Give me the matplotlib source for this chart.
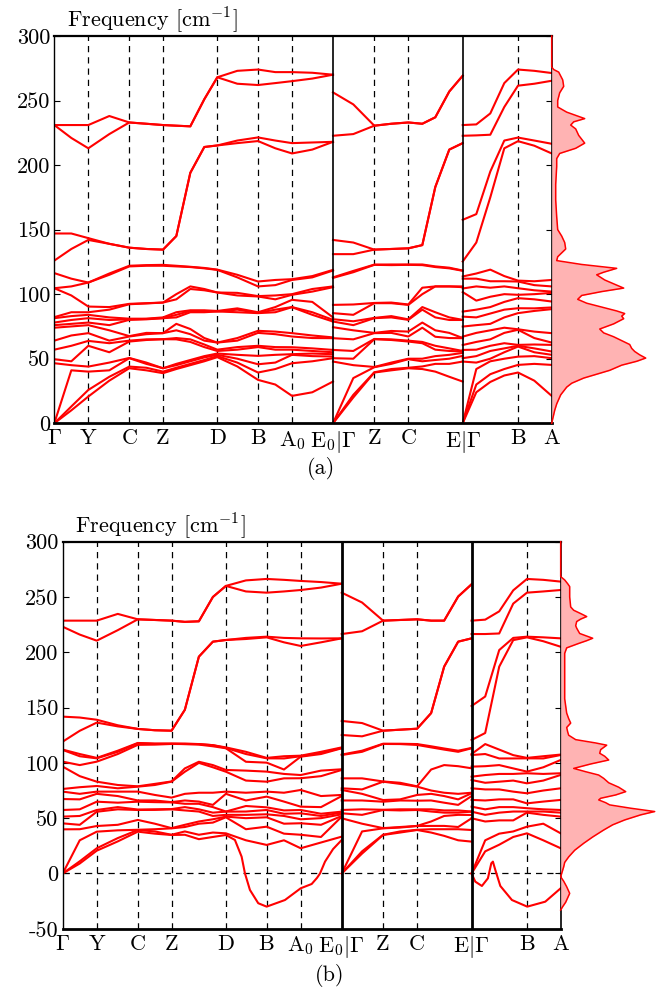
import matplotlib
matplotlib.use('Agg')
import matplotlib.pyplot as plt
import numpy as np

plt.rcParams['font.family'] = 'serif'
plt.rcParams['font.serif'] = ['cmr10', 'DejaVu Serif']
plt.rcParams['mathtext.fontset'] = 'cm'
plt.rcParams['axes.unicode_minus'] = False

# high symmetry points (path length units) and labels
kpts = [0, 34, 75, 108.7, 163, 203.7, 237.7, 278.7, 320, 354, 408.4, 463.7, 497.4]
klabels = [r'$\Gamma$', 'Y', 'C', 'Z', 'D', 'B', r'A$_0$', r'E$_0|\Gamma$',
           'Z', 'C', r'E$|\Gamma$', 'B', 'A']
dashed_k = [34, 75, 108.7, 163, 203.7, 237.7, 320, 354, 463.7]
sep_k = [278.7, 408.4]

# sample points along each path
grid1 = [0, 17, 34, 55, 75, 92, 108.7, 122, 136, 150, 163, 183, 203.7, 221, 237.7, 258, 278.7]
grid2 = [278.7, 299, 320, 337, 354, 368, 381, 395, 408.4]
grid3 = [408.4, 422, 436, 450, 463.7, 480, 497.4]

# ---------------- panel (a) ----------------
# lower bands: one list of frequencies per sample point
a1_low = [
    [0, 0, 0, 46.5, 49.6, 57, 64, 74, 76, 78, 81.4, 82.2, 104.6, 104.6, 116.3],
    [10, 13, 41, 45, 48, 60, 68, 75, 77, 80, 83, 86, 99, 106, 112],
    [20.7, 25.8, 40, 43.9, 60, 63.8, 69.8, 76, 78, 81.4, 84, 86, 90.4, 109, 109],
    [33, 36, 41, 47, 55, 62, 64, 72, 76, 80, 82, 88, 90, 115, 116],
    [42.6, 43.9, 50.4, 50.6, 63.3, 64, 67.2, 67.5, 80.1, 80.5, 81, 92.2, 92.5, 121.5, 122],
    [41, 43, 46, 47, 64.5, 65, 69, 70, 80.5, 80.8, 81, 92.8, 93, 122, 122.5],
    [38.8, 40, 42.6, 42.6, 65.1, 65.1, 69.8, 69.8, 81.4, 81.4, 82, 93.5, 93.5, 122, 122.7],
    [42, 43, 45, 46, 65, 66, 72, 77, 82, 84, 86, 96, 100, 121.5, 122],
    [45, 46, 48, 49, 63, 65, 69, 73, 86, 87, 87.5, 104, 106, 121, 121.2],
    [48, 49, 51, 52, 59, 61, 64, 66, 86, 87, 87.5, 103, 104, 120, 120.3],
    [51.2, 52, 53, 54, 56, 57, 62.5, 62.5, 86.6, 86.6, 87, 101.3, 101.3, 118.8, 119],
    [44, 47, 50, 53, 57, 59, 64, 66, 86, 88, 89, 99, 101, 113, 115],
    [33.6, 39.3, 45.7, 52.2, 59, 60, 70, 71.6, 85.3, 85.5, 86, 98.2, 98.5, 106, 109.8],
    [30, 42, 47, 53, 57, 59, 69, 71, 86, 88, 90, 96, 99, 107, 111],
    [21.2, 46.5, 53, 53.5, 57, 58.9, 67.2, 69.8, 89.9, 90, 95.6, 99.5, 100, 111, 111.6],
    [24, 48, 52, 54, 56, 58, 66, 68, 84, 86, 94, 102, 104, 113, 114],
    [32.3, 50.4, 51.7, 53.5, 55, 56.8, 65.9, 66.5, 78.8, 80.1, 82, 105.4, 106, 118.3, 118.8],
]
a1_high = [
    [126, 135, 142, 139, 136, 135, 134.5, 145, 194, 214, 215.2, 217, 218.6, 213, 209, 212, 218],
    [147, 147, 143.4, 139, 136, 135, 134.5, 145, 194, 214, 215.2, 219, 221.4, 219, 217, 217.5, 218],
    [231, 221, 213, 224, 233, 232, 231, 230.5, 230, 251, 268, 263, 262, 263.5, 265, 267, 270],
    [231, 231, 231, 238, 233, 232, 231, 230.5, 230, 251, 268, 273, 274, 272, 272, 271.5, 270],
]
a2_low = [
    [0, 0, 0, 47.8, 50.4, 56.8, 65.9, 74.4, 78.8, 80.6, 85.3, 91.7, 112.6, 113],
    [20, 22, 35, 45, 50, 56, 65, 72, 76, 79, 84, 92, 117, 118],
    [39.3, 39.5, 43.4, 43.6, 65.1, 65.3, 69.8, 70, 81.4, 81.6, 93, 93.2, 122.7, 122.9],
    [41, 42, 46, 47, 64.5, 65, 70, 71.5, 82, 83, 93, 93.5, 122.5, 123],
    [42.6, 43, 49.6, 50, 63.3, 64, 67.2, 71, 80.1, 80.5, 91.7, 92, 122.7, 123],
    [42, 44, 48, 50, 62, 63, 74, 78, 88, 90, 100, 105, 122.5, 123],
    [40, 46, 49, 52, 57, 60, 67, 72, 82, 86, 106, 106, 121, 121.5],
    [36, 46, 50, 53, 56, 58, 66, 70, 80, 82, 106, 106, 120, 120.5],
    [32.3, 47.8, 52.2, 54.5, 55.6, 56, 65.9, 66, 80, 80.1, 105.4, 106, 118.1, 118.3],
]
a2_high = [
    [131, 131, 134.5, 135, 135.5, 138, 183, 212, 217],
    [142, 140, 134.5, 135, 135.5, 138, 183, 212, 217],
    [222.7, 224, 230.5, 232, 233, 232, 237, 257, 269.2],
    [256.3, 247, 230.5, 232, 233, 232, 237, 257, 269.2],
]
a3_low = [
    [0, 0, 0, 47.8, 50.4, 56.8, 60.6, 67.1, 74.9, 82.6, 86.5, 101.6, 104.4, 112, 113.7],
    [24, 30, 42, 47, 52, 57, 63, 70, 76, 82, 88, 95, 106, 112, 116],
    [32, 38, 48, 50, 56, 60, 65, 72, 77, 85, 90, 98, 105, 110, 119],
    [37, 42, 50, 55, 58, 62, 70, 74, 82, 88, 94, 100, 106, 110, 114],
    [39.3, 45.2, 51.6, 59.4, 60, 60.7, 72.4, 72.8, 85.3, 89.1, 96.9, 99.5, 104.6, 109.8, 110.5],
    [33, 46, 52, 55, 58, 61, 66, 71, 87, 89, 96, 100, 103, 107, 110],
    [21.2, 45.2, 50.4, 53, 55.6, 60.7, 62.5, 69.8, 88.4, 89.7, 94.3, 101, 102, 106, 111],
]
a3_high = [
    [125.3, 140, 175, 213, 218.5, 215, 209],
    [157.6, 162, 195, 219, 221.3, 219, 216.5],
    [222.7, 223, 223.5, 245, 261.5, 263, 265.3],
    [231, 231.5, 240, 263.5, 274, 273, 271.3],
]
dos_a_freq = [300, 276, 274, 272, 266, 261, 256, 250, 245, 241, 236, 233.5, 231, 228, 223, 217,
              213, 209, 205, 199, 185, 173, 160, 150, 145, 140, 135, 132, 129, 126, 123, 120,
              117, 115, 111, 107, 104.7, 102, 99, 96, 93, 91, 87, 85, 83, 81, 77, 73, 70, 67,
              64, 61, 58, 55.6, 53, 50.5, 48, 45, 41, 38, 35, 31, 28, 22, 15, 10, 5, 0]
dos_a_val = [0, 0, 2, 7, 11, 12, 8, 6, 6, 15, 33, 22, 19, 24, 27, 33,
             24, 8, 5, 5, 4, 4, 5, 6, 10, 13, 14, 10, 6, 5, 30, 65,
             52, 45, 53, 65, 72, 50, 30, 26, 35, 45, 65, 73, 70, 72, 62, 48, 52, 62,
             70, 78, 80, 83, 88, 94, 85, 70, 58, 45, 32, 20, 15, 9, 5, 3, 1.5, 0]

# ---------------- panel (b) ----------------
b1_low = [
    [0, 0, 39.9, 45.3, 51.4, 57.4, 67.3, 74, 76.4, 96.6, 101.1, 111.7, 112],
    [11, 30, 40, 44, 52, 58, 67, 72, 78, 88, 98, 106, 108],
    [22.8, 37.8, 42.9, 55.8, 57.4, 64.9, 72, 74, 79.1, 83, 101.1, 104.1, 104.5],
    [32, 39, 44, 58, 60, 64, 70, 74, 77, 80, 108, 110, 111],
    [39.3, 39.5, 48.4, 57.4, 57.8, 64.9, 66, 74, 78.5, 78.8, 116.3, 117.7, 118],
    [38, 40, 45, 57.5, 58, 64.5, 66, 71, 80, 81, 116.5, 117.2, 117.5],
    [35, 40.8, 41, 58, 58.2, 64.3, 64.5, 68.6, 83, 83.2, 117.1, 117.3, 117.5],
    [38, 42, 44, 57, 60, 63, 66, 72, 92, 95, 117, 117, 117.5],
    [35, 45, 47, 56, 58, 63, 65, 73, 100, 101, 116.5, 117, 117],
    [37, 46, 49, 52, 55, 60, 62, 73, 96, 98, 115, 116, 116],
    [36.3, 50.8, 51.4, 53, 55.9, 56, 72, 74, 92, 93.6, 113.2, 113.5, 114],
    [30, 40, 50, 53, 56, 61, 66, 73, 84, 93, 101, 108, 110],
    [25.8, 42.3, 50.8, 53.5, 57.4, 59.8, 69.5, 74, 83, 92.1, 100.2, 104.1, 104.5],
    [30, 36, 45, 52, 54, 57, 65, 73, 86, 90, 94, 104, 106],
    [22.8, 35, 45.4, 49, 54.4, 57.4, 60.4, 75.5, 86.1, 89, 105.6, 106, 106.5],
    [28, 33, 44, 50, 52, 54, 60, 70, 88, 93, 108, 109, 110],
    [33.3, 51.4, 52, 53.5, 55, 55.9, 70, 71, 93.6, 94.2, 113.2, 113.5, 114],
]
b1_high = [
    [119.2, 129, 136.4, 133, 130.7, 129.5, 129.1, 148, 196, 209.6, 211.1, 212, 213.5, 209, 205.7, 209, 212.6],
    [141.8, 141, 139, 134, 130.7, 129.5, 129.1, 148, 196, 209.6, 211.1, 213, 214.1, 213, 212.6, 212.5, 212.6],
    [223.1, 216, 210.5, 220, 229.8, 229.2, 228.6, 227.5, 228, 250, 260, 255, 253.9, 255, 256.3, 258.5, 262],
    [228.6, 228.6, 228.6, 234.7, 229.8, 229.2, 228.6, 227.5, 228, 250, 260, 265, 266.3, 265.5, 264.5, 263.5, 262],
]
# soft branch along D-B-A0-E0
dip_k = [0, 17, 34, 55, 75, 92, 108.7, 122, 136, 150, 163, 172, 178.7, 182, 187, 195.3,
         203.7, 222, 237.7, 248.7, 254, 257, 262, 270, 278.7]
dip_f = [0, 9, 20.6, 29, 37.8, 36, 34.8, 35, 31, 33, 34.8, 30.3, 15.2, 0.2, -14.9, -26.9,
         -30, -24, -13.4, -9.5, -4, 0, 10.7, 22, 30.3]
b2_low = [
    [0, 0, 0, 49.9, 54.4, 57.4, 66, 75.5, 77, 86, 107.1, 107.5],
    [18, 20, 38, 45, 53, 58, 66, 72, 76, 86, 110, 111],
    [34.8, 35, 40.8, 41, 57.4, 57.6, 64.9, 66.4, 83, 83.2, 117.1, 117.3],
    [37, 38, 41.5, 42, 57, 58, 66, 67, 81, 82, 117, 117.3],
    [39.3, 39.5, 42.9, 43, 57.4, 58, 65.8, 71, 78.5, 78.8, 116.2, 117],
    [37, 40, 43, 47, 56, 58, 66, 72, 75, 94, 114, 115],
    [34, 40, 43, 52, 55, 57, 64, 70, 73, 98, 112, 113],
    [30, 40, 42, 53, 55, 57, 62, 67, 72, 97, 110, 111],
    [28.8, 39.3, 49.9, 52.9, 55.9, 56, 70, 72.5, 73, 95.1, 113.2, 113.5],
]
b2_high = [
    [125.2, 124, 129.1, 130, 130.9, 145, 187, 209.6, 212.6],
    [137.9, 136, 129.1, 130, 130.9, 145, 187, 209.6, 212.6],
    [216.5, 219, 228.6, 229.2, 229.8, 228.6, 228.6, 250.4, 261.5],
    [253.9, 245, 228.6, 229.2, 229.8, 228.6, 228.6, 250.4, 261.5],
]
b3_low = [
    [0, 0, 49.9, 55.9, 60.4, 66.5, 77, 84.5, 87.5, 96.6, 107.1, 108],
    [20, 30, 47, 53, 58, 66, 76, 82, 89, 97, 108, 117],
    [26, 36, 48, 55, 60, 67, 76, 83, 90, 98, 104, 112],
    [33, 38, 48, 56, 60, 67, 74, 84, 90, 95, 104, 107],
    [36.3, 42.3, 55, 56, 59, 63.4, 72.5, 81.5, 90.6, 92.1, 104.1, 104.5],
    [30, 45, 53, 56, 58, 65, 75, 84, 90, 96, 104, 106],
    [22.8, 36.3, 51.4, 55, 57.4, 66.5, 77, 89.1, 90.6, 102.6, 107.1, 107.5],
]
b3_high = [
    [120.7, 127, 187, 211, 213.5, 210, 205],
    [151.4, 160, 202, 213, 214.1, 213.5, 212.6],
    [216.5, 216.5, 217, 244, 253.9, 255, 256.3],
    [228.6, 229.5, 237, 256, 266.3, 265.5, 263.9],
]
wig_k = [408.4, 412.1, 418.7, 424.7, 428.1, 429.7, 432.1, 437.1, 448.7, 464, 482, 497.4]
wig_f = [0, -7.4, -11.3, -4.4, 9.2, 10.7, 3.2, -11.3, -24, -30, -25.5, -13.4]
dos_b_freq = [300, 268.4, 265.4, 262, 259.4, 250, 241, 238, 235, 232.3, 230, 227.8, 224, 221.8,
              217, 214, 212.7, 210.5, 208, 204, 199, 185, 172, 158, 145, 140, 136, 132, 128,
              125, 121, 118, 116, 112, 108.7, 106, 102.6, 99, 95, 92, 89, 86, 82, 78, 74, 71,
              68, 66.5, 64, 62, 59, 56, 53, 48.4, 44, 39.3, 33, 27.3, 21, 15, 10, 6, 0, -3,
              -7, -12, -18, -22, -26, -30, -33]
dos_b_val = [0, 0, 4, 7, 9, 9, 10, 13, 20, 26, 20, 16, 15, 16,
             19, 28, 32, 26, 18, 6, 4, 4, 4, 4, 6, 8, 10, 6, 7,
             8, 15, 35, 46, 40, 39, 44, 48, 30, 13, 25, 38, 43, 48, 58, 65, 55,
             40, 38, 45, 49, 70, 94, 80, 64, 52, 43, 32, 23, 14, 8, 4, 3, 1, 0,
             3, 6, 9, 7, 5, 2, 0]

RED = '#ff0000'
FS = 16


def draw_path(ax, grid, low, high):
    bands = np.vstack([np.array(low).T, np.array(high)])
    for b in bands:
        ax.plot(grid, b, color=RED, lw=1.5, solid_joinstyle='round')


def panel(rect, dos_rect, dos_xmax, paths, extra, ylim, yticks, dos_f, dos_v, zero, sep_lw):
    ax = fig.add_axes(rect)
    for grid, low, high in paths:
        draw_path(ax, grid, low, high)
    for k, f in extra:
        ax.plot(k, f, color=RED, lw=1.5, solid_joinstyle='round')
    for x in dashed_k:
        ax.axvline(x, color='k', lw=0.9, ls=(0, (5, 4)), zorder=0)
    for x in sep_k:
        ax.axvline(x, color='k', lw=sep_lw, zorder=3)
    if zero:
        ax.axhline(0, color='k', lw=0.9, ls=(0, (5, 4)), zorder=0)
    ax.set_xlim(0, 497.4)
    ax.set_ylim(*ylim)
    ax.set_xticks(kpts, klabels)
    ax.set_yticks(yticks, [str(t) for t in yticks])
    ax.tick_params(axis='x', length=0, pad=4, labelsize=FS)
    ax.tick_params(axis='y', direction='in', length=4, right=True, labelsize=FS, pad=3)
    ax.spines['bottom'].set_linewidth(2)
    ax.spines['top'].set_linewidth(1.6)
    ax.spines['left'].set_linewidth(1.0)
    ax.spines['right'].set_linewidth(1.2)
    ax.text(0.025, 1.002, r'Frequency [cm$^{-1}$]', transform=ax.transAxes,
            fontsize=FS, va='bottom', ha='left')

    ad = fig.add_axes(dos_rect)
    ad.fill_betweenx(dos_f, 0, dos_v, color='#ffb3b3', lw=0)
    ad.plot(dos_v, dos_f, color=RED, lw=1.1, clip_on=False)
    ad.set_ylim(*ylim)
    ad.set_xlim(0, dos_xmax)
    ad.axis('off')
    return ax


fig = plt.figure(figsize=(6.56, 9.91), dpi=100)

panel([0.0828, 0.5729, 0.7582, 0.3908], [0.8410, 0.5729, 0.159, 0.3908], 104.3,
      [(grid1, a1_low, a1_high), (grid2, a2_low, a2_high), (grid3, a3_low, a3_high)],
      [], (0, 300), [0, 50, 100, 150, 200, 250, 300], dos_a_freq, dos_a_val, False, 1.2)

panel([0.0956, 0.0628, 0.7591, 0.3906], [0.8547, 0.0628, 0.1453, 0.3906], 95.3,
      [(grid1, b1_low, b1_high), (grid2, b2_low, b2_high), (grid3, b3_low, b3_high)],
      [(dip_k, dip_f), (wig_k, wig_f)], (-50, 300), [-50, 0, 50, 100, 150, 200, 250, 300],
      dos_b_freq, dos_b_val, True, 2.0)

fig.text(0.489, 0.5277, '(a)', fontsize=FS, ha='center', va='center')
fig.text(0.503, 0.016, '(b)', fontsize=FS, ha='center', va='center')

fig.savefig('out.png', dpi=100)
